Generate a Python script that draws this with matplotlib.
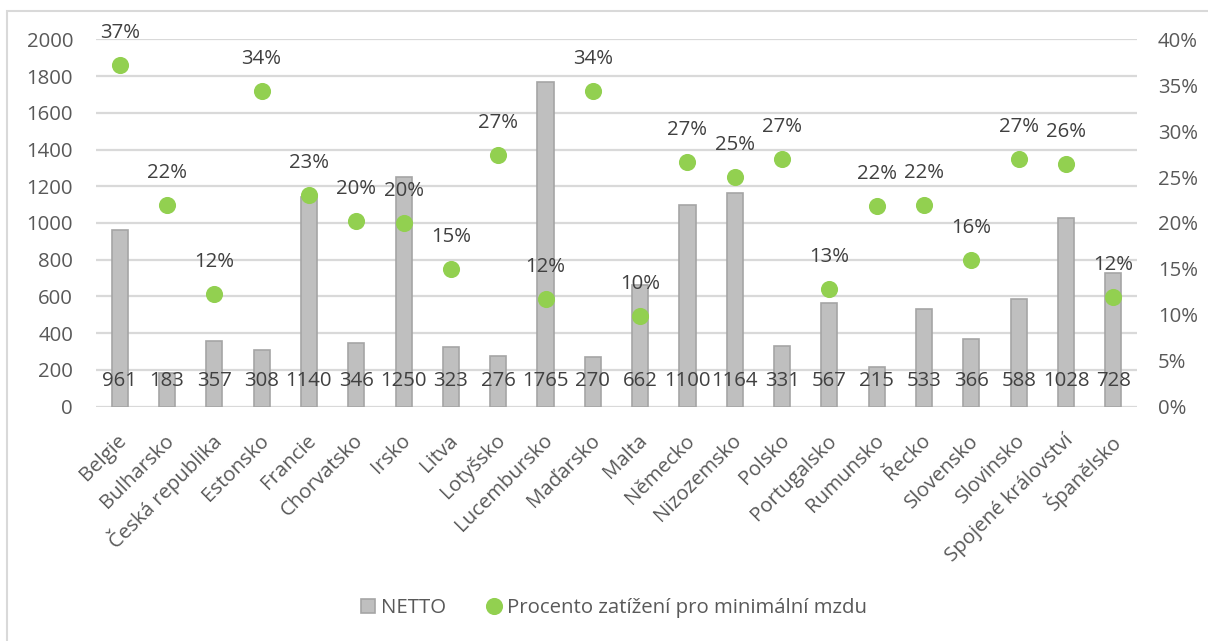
import numpy as np
import matplotlib.pyplot as plt
from matplotlib.patches import Rectangle

# data
zeme = ["Belgie", "Bulharsko", "Česká republika", "Estonsko", "Francie", "Chorvatsko",
        "Irsko", "Litva", "Lotyšsko", "Lucembursko", "Maďarsko", "Malta", "Německo",
        "Nizozemsko", "Polsko", "Portugalsko", "Rumunsko", "Řecko", "Slovensko",
        "Slovinsko", "Spojené království", "Španělsko"]
netto = [961, 183, 357, 308, 1140, 346, 1250, 323, 276, 1765, 270, 662, 1100,
         1164, 331, 567, 215, 533, 366, 588, 1028, 728]
procento = [37.2, 22.0, 12.3, 34.4, 23.0, 20.2, 20.0, 15.0, 27.4, 11.7, 34.4, 9.9,
            26.6, 25.0, 27.0, 12.8, 21.9, 22.0, 16.0, 27.0, 26.4, 11.9]
levy_ticks = list(range(0, 2001, 200))
pravy_ticks = list(range(0, 41, 5))

plt.rcParams['font.family'] = ['Open Sans', 'DejaVu Sans']
text_barva = '#404040'
osa_barva = '#595959'
fs = 14.7

fig = plt.figure(figsize=(12.08, 6.41), dpi=100)
ax = fig.add_axes([96/1208, 1 - 406.7/641, (1137 - 96)/1208, (406.7 - 39.3)/641])
ax2 = ax.twinx()

x = np.arange(len(zeme))

# sloupce
ax.bar(x, netto, width=0.34, color='#BFBFBF', edgecolor='#A5A5A5', linewidth=1.2,
       label='NETTO', zorder=2)
for xi, v in zip(x, netto):
    ax.annotate(str(v), (xi, 0), xytext=(0, 26), textcoords='offset pixels',
                ha='center', va='center', fontsize=fs, color=text_barva, zorder=5)

ax.set_ylim(0, 2000)
ax.set_xlim(-0.5, len(zeme) - 0.5)
ax.set_yticks(levy_ticks)
ax.set_yticklabels([str(t) for t in levy_ticks], fontsize=fs, color=osa_barva)
ax.grid(axis='y', color='#D9D9D9', linewidth=1.6, zorder=0)
ax.set_axisbelow(True)
ax.set_xticks(x)
ax.set_xticklabels([])
# popisky kategorii - natocene o 45 stupnu
for xi, nazev in zip(x, zeme):
    ax.annotate(nazev, (xi, 0), xytext=(4, -31), textcoords='offset pixels',
                rotation=45, ha='right', va='center', rotation_mode='anchor',
                fontsize=fs, color=osa_barva, annotation_clip=False)
ax.tick_params(axis='both', length=0)
ax.tick_params(axis='y', pad=16.5)
for s in ax.spines.values():
    s.set_visible(False)

# body
ax2.plot(x, procento, 'o', color='#92D050', markersize=11.3, zorder=4,
         label='Procento zatížení pro minimální mzdu')
for xi, p in zip(x, procento):
    ax2.annotate(f"{round(p)}%", (xi, p), xytext=(0, 32), textcoords='offset pixels',
                 ha='center', va='center', fontsize=fs, color=text_barva)
ax2.set_ylim(0, 40)
ax2.set_yticks(pravy_ticks)
ax2.set_yticklabels([f"{t}%" for t in pravy_ticks], fontsize=fs, color=osa_barva)
ax2.tick_params(axis='y', length=0, pad=15)
for s in ax2.spines.values():
    s.set_visible(False)

# legenda
h1, l1 = ax.get_legend_handles_labels()
h2, l2 = ax2.get_legend_handles_labels()
fig.legend(h1 + h2, l1 + l2, loc='center', bbox_to_anchor=(614/1208, 1 - 608/641),
           ncol=2, frameon=False, fontsize=fs, labelcolor=osa_barva,
           handlelength=0.7, handleheight=0.7, handletextpad=0.32, columnspacing=1.96,
           borderpad=0, borderaxespad=0)

# ramecek
fig.patches.append(Rectangle((7/1208, -0.1), 1.2, 1 - 10.5/641 + 0.1,
                             transform=fig.transFigure, fill=False,
                             edgecolor='#D9D9D9', linewidth=1.5))

fig.savefig('out.png', dpi=100)
